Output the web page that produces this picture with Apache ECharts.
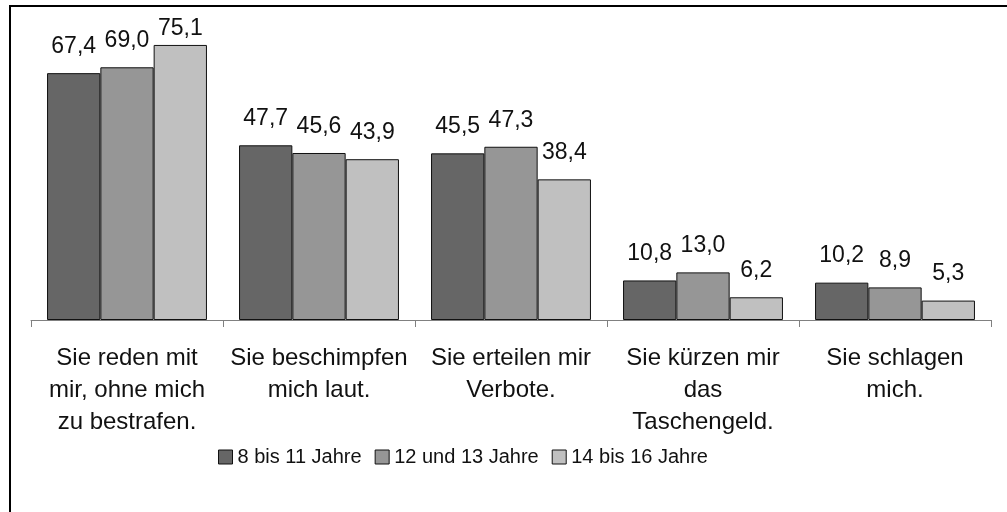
<!DOCTYPE html>
<html>
<head>
<meta charset="utf-8">
<script src="https://cdn.jsdelivr.net/npm/echarts@6/dist/echarts.min.js"></script>
<style>
html, body { margin: 0; padding: 0; background: #fff; }
#chartDiv { width: 1007px; height: 512px; }
</style>
</head>
<body>
<div id="chartDiv"></div>
<script>
var categories = [
    'Sie reden mit\nmir, ohne mich\nzu bestrafen.',
    'Sie beschimpfen\nmich laut.',
    'Sie erteilen mir\nVerbote.',
    'Sie kürzen mir\ndas\nTaschengeld.',
    'Sie schlagen\nmich.'
];
var seriesNames = ['8 bis 11 Jahre', '12 und 13 Jahre', '14 bis 16 Jahre'];
var age8to11 = [67.4, 47.7, 45.5, 10.8, 10.2];
var age12to13 = [69.0, 45.6, 47.3, 13.0, 8.9];
var age14to16 = [75.1, 43.9, 38.4, 6.2, 5.3];
var colors = ['#666666', '#969696', '#c0c0c0'];

var fontFamily = '"Liberation Sans", Arial, sans-serif';
var myChart = echarts.init(document.getElementById('chartDiv'));

function makeSeries(name, values, color) {
    return {
        name: name,
        type: 'bar',
        barGap: 0,
        barCategoryGap: '16.7%',
        data: values.map(function (v) {
            // Excel pushed the tallest label down against the plot top
            if (v > 72) {
                return {value: v, label: {distance: 5}};
            }
            return v;
        }),
        itemStyle: {color: color, borderColor: '#111', borderWidth: 1},
        label: {
            show: true,
            position: 'top',
            distance: 15,
            color: '#111',
            fontSize: 23,
            fontFamily: fontFamily,
            formatter: function (p) {
                return p.value.toFixed(1).replace('.', ',');
            }
        }
    };
}

myChart.setOption({
    animation: false,
    grid: {left: 31, right: 16, top: 27, bottom: 192},
    graphic: [{
        type: 'rect',
        shape: {x: 10, y: 6, width: 1200, height: 700},
        style: {fill: 'none', stroke: '#000', lineWidth: 2}
    }],
    legend: {
        left: 213,
        top: 442,
        itemWidth: 14,
        itemHeight: 14,
        itemGap: 13,
        icon: 'rect',
        itemStyle: {borderColor: '#111', borderWidth: 1},
        textStyle: {fontSize: 20, color: '#111', fontFamily: fontFamily},
        data: seriesNames
    },
    xAxis: {
        type: 'category',
        data: categories,
        axisLine: {lineStyle: {color: '#808080', width: 1}},
        axisTick: {show: true, length: 7, lineStyle: {color: '#808080'}},
        axisLabel: {
            margin: 22,
            fontSize: 24,
            lineHeight: 32,
            color: '#111',
            fontFamily: fontFamily,
            interval: 0
        }
    },
    yAxis: {
        type: 'value',
        min: 0,
        max: 80,
        show: false,
        splitLine: {show: false}
    },
    series: [
        makeSeries(seriesNames[0], age8to11, colors[0]),
        makeSeries(seriesNames[1], age12to13, colors[1]),
        makeSeries(seriesNames[2], age14to16, colors[2])
    ]
});
window.onresize = myChart.resize;
</script>
</body>
</html>
